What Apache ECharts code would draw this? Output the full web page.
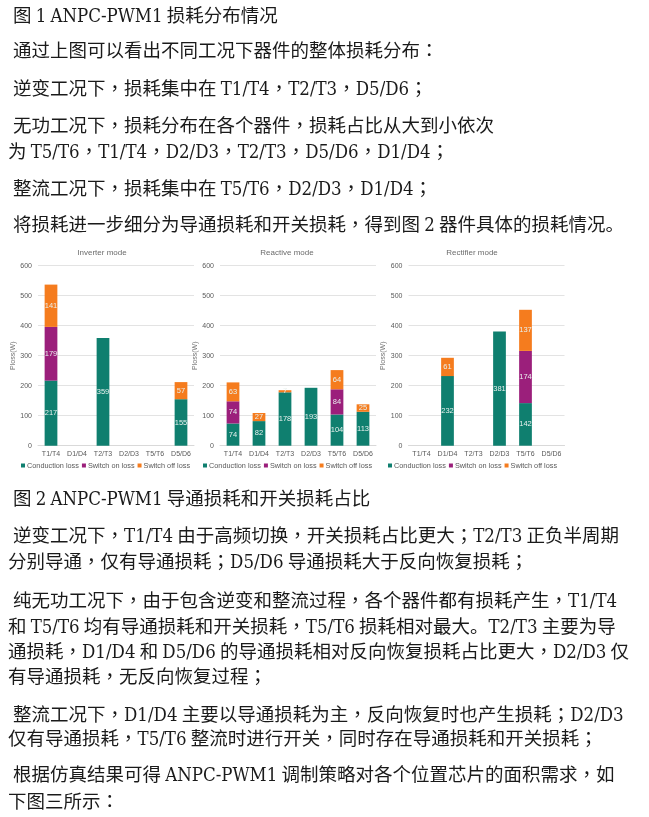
<!DOCTYPE html>
<html>
<head>
<meta charset="utf-8">
<script src="https://cdn.jsdelivr.net/npm/echarts@6/dist/echarts.min.js"></script>
<style>
html,body{margin:0;padding:0;background:#fff;}
#page{position:relative;width:649px;height:817px;overflow:hidden;}
#chart{position:absolute;left:0;top:0;width:649px;height:817px;}
.ln{position:absolute;white-space:nowrap;font-size:18.5px;line-height:24px;color:#1a1a1a;
  font-family:"Noto Sans CJK SC",sans-serif;}
.lat{font-family:"DejaVu Serif Condensed","DejaVu Serif",serif;font-stretch:condensed;}
.pun{font-family:"Noto Sans CJK TC","Noto Sans CJK SC",sans-serif;}
</style>
</head>
<body>
<div id="page">
<div id="chart"></div>
</div>
<script>
// ---- text content ----
const textLines = [
  "图 1 ANPC-PWM1 损耗分布情况",
  "通过上图可以看出不同工况下器件的整体损耗分布：",
  "逆变工况下，损耗集中在 T1/T4，T2/T3，D5/D6；",
  "无功工况下，损耗分布在各个器件，损耗占比从大到小依次",
  "为 T5/T6，T1/T4，D2/D3，T2/T3，D5/D6，D1/D4；",
  "整流工况下，损耗集中在 T5/T6，D2/D3，D1/D4；",
  "将损耗进一步细分为导通损耗和开关损耗，得到图 2 器件具体的损耗情况。",
  "图 2 ANPC-PWM1 导通损耗和开关损耗占比",
  "逆变工况下，T1/T4 由于高频切换，开关损耗占比更大；T2/T3 正负半周期",
  "分别导通，仅有导通损耗；D5/D6 导通损耗大于反向恢复损耗；",
  "纯无功工况下，由于包含逆变和整流过程，各个器件都有损耗产生，T1/T4",
  "和 T5/T6 均有导通损耗和开关损耗，T5/T6 损耗相对最大。T2/T3 主要为导",
  "通损耗，D1/D4 和 D5/D6 的导通损耗相对反向恢复损耗占比更大，D2/D3 仅",
  "有导通损耗，无反向恢复过程；",
  "整流工况下，D1/D4 主要以导通损耗为主，反向恢复时也产生损耗；D2/D3",
  "仅有导通损耗，T5/T6 整流时进行开关，同时存在导通损耗和开关损耗；",
  "根据仿真结果可得 ANPC-PWM1 调制策略对各个位置芯片的面积需求，如",
  "下图三所示："
];
const lineCenters = [14,49,87,124,150,187,223,497,534,560,599,625,650,675,713,737,773,800];
const lineLefts = [13,13,13,13,8,13,13,13,13,8,13,8,8,8,13,8,13,8];

// ---- chart data ----
const categories = ['T1/T4','D1/D4','T2/T3','D2/D3','T5/T6','D5/D6'];
const modeTitles = ['Inverter mode','Reactive mode','Rectifier mode'];
const seriesNames = ['Conduction loss','Switch on loss','Switch off loss'];
const yAxisName = 'Ploss(W)';
const yMin = 0, yMax = 600, yStep = 100;

const inverterConduction = [217, 0, 359, 0, 0, 155];
const inverterSwitchOn   = [179, 0, 0, 0, 0, 0];
const inverterSwitchOff  = [141, 0, 0, 0, 0, 57];

const reactiveConduction = [74, 82, 178, 193, 104, 113];
const reactiveSwitchOn   = [74, 0, 0, 0, 84, 0];
const reactiveSwitchOff  = [63, 27, 7, 0, 64, 25];

const rectifierConduction = [0, 232, 0, 381, 142, 0];
const rectifierSwitchOn   = [0, 0, 0, 0, 174, 0];
const rectifierSwitchOff  = [0, 61, 0, 0, 137, 0];

// ---- font availability check for condensed serif ----
function fontAvailable(name) {
  const c = document.createElement('canvas').getContext('2d');
  const probe = 'ANPC-PWM1 T1/T4 D5/D6';
  c.font = '20px monospace';
  const base = c.measureText(probe).width;
  c.font = '20px "' + name + '", monospace';
  return Math.abs(c.measureText(probe).width - base) > 0.5;
}
const hasCondensed = fontAvailable('DejaVu Serif Condensed');

// ---- text layout ----
const page = document.getElementById('page');
function esc(s){return s.replace(/&/g,'&amp;').replace(/</g,'&lt;');}
textLines.forEach((t, i) => {
  const d = document.createElement('div');
  d.className = 'ln';
  const parts = t.split(/([A-Za-z0-9\-\/]+|[，；：])/);
  d.innerHTML = parts.map(p => {
    if (!p) return '';
    if (/^[A-Za-z0-9\-\/]+$/.test(p)) {
      const extra = hasCondensed ? '' : ' style="letter-spacing:-0.9px"';
      return '<span class="lat"' + extra + '>' + esc(p) + '</span>';
    }
    if (/^[，；：]$/.test(p)) return '<span class="pun">' + p + '</span>';
    return esc(p);
  }).join('');
  d.style.left = lineLefts[i] + 'px';
  d.style.top = (lineCenters[i] - 12) + 'px';
  page.appendChild(d);
});

// ---- chart ----
const colors = ['#0f7f6f', '#9b1f7b', '#f57c1e'];
const panelData = [
  [inverterConduction, inverterSwitchOn, inverterSwitchOff],
  [reactiveConduction, reactiveSwitchOn, reactiveSwitchOff],
  [rectifierConduction, rectifierSwitchOn, rectifierSwitchOff]
];
const gridLefts = [38, 220, 408.5];
const gridWidth = 156;
const gridTop = 265.7;
const gridHeight = 180;
const titleCenters = [102, 287, 472];
const legendLefts = [21, 203, 388];

const axisFont = 'Liberation Sans';
const grid = [], xAxis = [], yAxis = [], title = [], legend = [], series = [];
panelData.forEach((pd, g) => {
  grid.push({left: gridLefts[g], top: gridTop, width: gridWidth, height: gridHeight});
  title.push({
    text: modeTitles[g],
    left: titleCenters[g], top: 249, textAlign: 'center', padding: 0,
    textStyle: {fontSize: 8, fontWeight: 'normal', color: '#6b6b6b', fontFamily: axisFont}
  });
  legend.push({
    left: legendLefts[g], top: 462, orient: 'horizontal', padding: 0,
    itemWidth: 4, itemHeight: 4, itemGap: 3, icon: 'rect',
    data: seriesNames,
    textStyle: {fontSize: 7.3, color: '#595959', fontFamily: axisFont, padding: [0, 0, 0, -3]}
  });
  xAxis.push({
    type: 'category', gridIndex: g, data: categories,
    axisLine: {lineStyle: {color: '#d9d9d9'}}, axisTick: {show: false},
    axisLabel: {fontSize: 7, color: '#595959', margin: 5, fontFamily: axisFont, interval: 0}
  });
  yAxis.push({
    type: 'value', gridIndex: g, min: yMin, max: yMax, interval: yStep,
    name: yAxisName, nameLocation: 'middle', nameGap: 20, nameRotate: 90,
    nameTextStyle: {fontSize: 7, color: '#707070', fontFamily: axisFont},
    axisLine: {show: false}, axisTick: {show: false},
    splitLine: {lineStyle: {color: '#e3e3e3', width: 1}},
    axisLabel: {fontSize: 7, color: '#595959', margin: 6, fontFamily: axisFont}
  });
  pd.forEach((vals, s) => {
    series.push({
      name: seriesNames[s], type: 'bar', stack: 'p' + g,
      xAxisIndex: g, yAxisIndex: g,
      barWidth: '49%',
      itemStyle: {color: colors[s]},
      label: {
        show: true, position: 'inside', fontSize: 7.5, color: '#e8f0ee', fontFamily: axisFont,
        formatter: p => (p.value > 0 ? String(p.value) : '')
      },
      data: vals
    });
  });
});

const chart = echarts.init(document.getElementById('chart'), null, {renderer: 'canvas'});
chart.setOption({
  animation: false,
  color: colors,
  title, legend, grid, xAxis, yAxis, series
});
</script>
</body>
</html>
